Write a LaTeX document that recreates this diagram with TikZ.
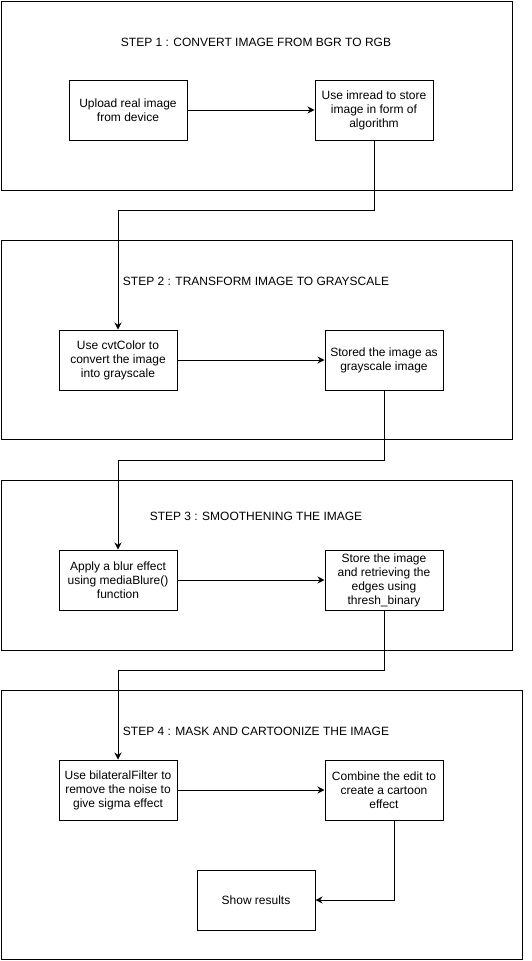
\documentclass[tikz,border=0pt]{standalone}
\usepackage{fontspec}
\setmainfont{Liberation Sans}
\usepackage{tikz}
\usetikzlibrary{arrows.meta,positioning,calc}

\begin{document}
\begin{tikzpicture}[
    x=1pt, y=-1pt,
    frame/.style={rectangle, draw, line width=1pt, inner sep=0pt, anchor=north west},
    box/.style={rectangle, draw, line width=1pt, minimum width=118pt, minimum height=60pt, inner sep=2pt, align=center, font=\fontsize{12}{14}\selectfont},
    title/.style={font=\fontsize{12}{14}\selectfont},
    arrow/.style={-{Stealth[length=7pt, width=7pt]}, line width=1pt}
]
\useasboundingbox (0,0) rectangle (531,961);

% Step frames
\node[frame, minimum width=511pt, minimum height=189pt] (frame1) at (1,1) {};
\node[frame, minimum width=511pt, minimum height=199pt] (frame2) at (1,240) {};
\node[frame, minimum width=511pt, minimum height=170pt] (frame3) at (1,480) {};
\node[frame, minimum width=521pt, minimum height=269pt] (frame4) at (1,690) {};

% Titles
\node[title] (title1) at (256,42) {STEP 1 : CONVERT IMAGE FROM BGR TO RGB};
\node[title] (title2) at (256,281) {STEP 2 : TRANSFORM IMAGE TO GRAYSCALE};
\node[title] (title3) at (256,516) {STEP 3 : SMOOTHENING THE IMAGE};
\node[title] (title4) at (256,731) {STEP 4 : MASK AND CARTOONIZE THE IMAGE};

% Step 1
\node[box] (upload) at (128,110) {Upload real image\\from device};
\node[box] (imread) at (374,110) {Use imread to store\\image in form of\\algorithm};
\draw[arrow] (upload) -- (imread);

% Step 2
\node[box] (cvtcolor) at (118,360) {Use cvtColor to\\convert the image\\into grayscale};
\node[box] (grayimg) at (384,360) {Stored the image as\\grayscale image};
\draw[arrow] (cvtcolor) -- (grayimg);
\draw[arrow] (imread.south) -- ++(0,70) -| (cvtcolor.north);

% Step 3
\node[box] (blur) at (118,580) {Apply a blur effect\\using mediaBlure()\\function};
\node[box] (edges) at (384,580) {Store the image\\and retrieving the\\edges using\\thresh\_binary};
\draw[arrow] (blur) -- (edges);
\draw[arrow] (grayimg.south) -- ++(0,70) -| (blur.north);

% Step 4
\node[box] (bilateral) at (118,790) {Use bilateralFilter to\\remove the noise to\\give sigma effect};
\node[box] (combine) at (384,790) {Combine the edit to\\create a cartoon\\effect};
\node[box] (results) at (256,900) {Show results};
\draw[arrow] (bilateral) -- (combine);
\draw[arrow] (edges.south) -- ++(0,60) -| (bilateral.north);
\draw[arrow] ([xshift=10pt]combine.south) |- (results.east);

\end{tikzpicture}
\end{document}
